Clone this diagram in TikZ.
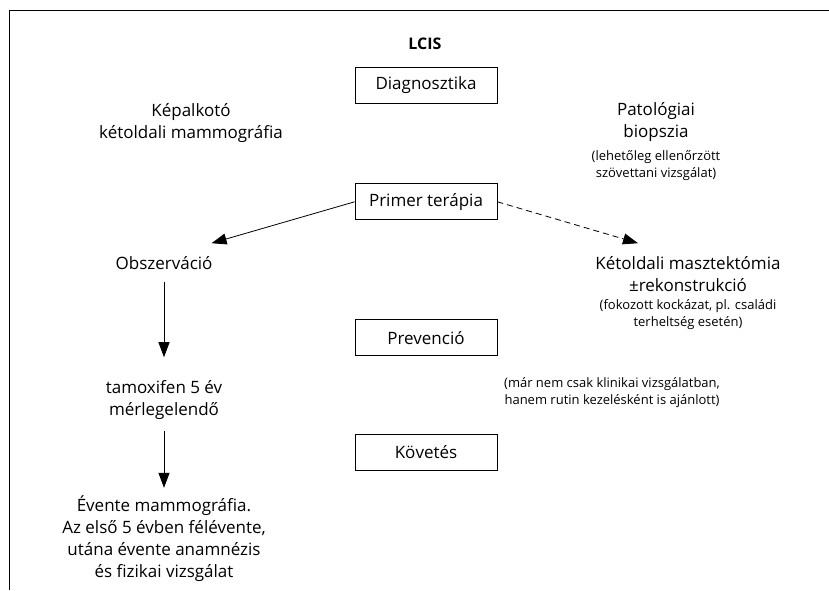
\documentclass[tikz,border=0pt]{standalone}
\usepackage{fontspec}
\setmainfont{Open Sans}
\usepackage{tikz}
\usetikzlibrary{positioning,arrows.meta}

\begin{document}
\begin{tikzpicture}[
  x=1pt, y=1pt,
  box/.style={rectangle, draw=black, line width=0.8pt, minimum width=142pt, minimum height=36pt, inner sep=2pt, font=\fontsize{17}{22}\selectfont},
  txt/.style={align=center, inner sep=2pt, font=\fontsize{17}{22}\selectfont},
  note/.style={align=center, inner sep=2pt, font=\fontsize{13}{17}\selectfont},
  line/.style={draw=black, line width=0.8pt, -{Triangle[length=15pt, width=11pt]}},
  dline/.style={line, dashed, dash pattern=on 6pt off 4pt}
]
  \useasboundingbox (0,0) rectangle (829,590);
  \draw[line width=0.8pt] (829,580) -- (9,580) -- (9,0);

  % Nodes
  \node[font=\fontsize{16}{20}\selectfont\bfseries] (lcis) at (425,546) {LCIS};
  \node[box] (diag) at (426,505) {Diagnosztika};
  \node[box, below=80pt of diag] (primer) {Primer terápia};
  \node[box, below=99pt of primer] (prev) {Prevenció};
  \node[box, below=78pt of prev] (kov) {Követés};

  \node[txt] (kep) at (191,467) {Képalkotó\\kétoldali mammográfia};
  \node[txt] (pat) at (656,468) {Patológiai\\biopszia};
  \node[note, below=5pt of pat] (patnote) {(lehetőleg ellenőrzött\\szövettani vizsgálat)};

  \node[txt] (obs) at (164,327) {Obszerváció};
  \node[txt] (mast) at (688,316) {Kétoldali masztektómia\\±rekonstrukció};
  \node[note, below=4pt of mast] (mastnote) {(fokozott kockázat, pl. családi\\terheltség esetén)};

  \node[note] (prevnote) at (612,197) {(már nem csak klinikai vizsgálatban,\\hanem rutin kezelésként is ajánlott)};

  \node[txt] (tam) at (164,190) {tamoxifen 5 év\\mérlegelendő};
  \node[txt] (eve) at (164,51) {Évente mammográfia.\\Az első 5 évben félévente,\\utána évente anamnézis\\és fizikai vizsgálat};

  % Arrows
  \path[line] (primer.west) -- ([xshift=-3pt, yshift=11pt]obs.north east);
  \path[dline] (primer.east) -- ([xshift=-50pt, yshift=11pt]mast.north);
  \path[line, shorten <=10pt, shorten >=21pt] (obs.south) -- (tam.north);
  \path[line, shorten <=9pt, shorten >=6pt] (tam.south) -- (eve.north);

\end{tikzpicture}
\end{document}
